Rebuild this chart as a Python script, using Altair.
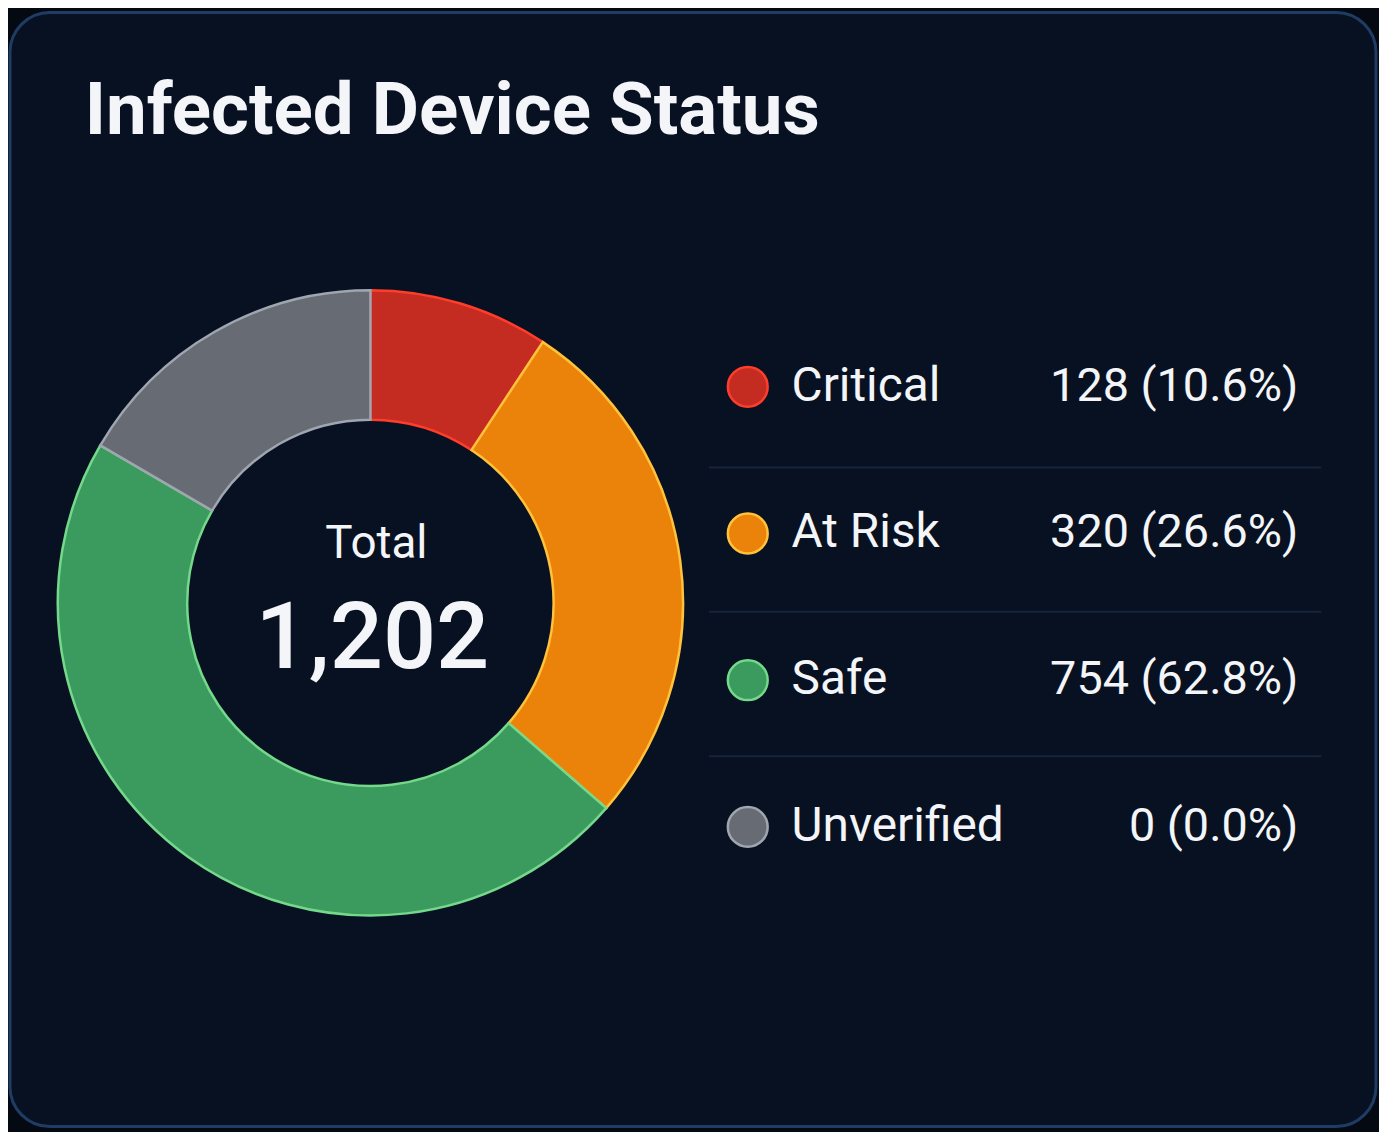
import altair as alt
import pandas as pd

title_text = "Infected Device Status"
categories = ["Critical", "At Risk", "Safe", "Unverified"]
counts = [128, 320, 754, 0]
percents = [10.6, 26.6, 62.8, 0.0]
# shares of the ring as drawn in the picture (degrees / 360)
arc_shares = [9.3, 27.1, 47.0, 16.6]
total_label = "Total"
total_value = "1,202"

fill_colors = ["#c42c22", "#eb8209", "#3b9a5d", "#676b74"]
stroke_colors = ["#ff3d2b", "#ffc23c", "#74d98b", "#a0a6b0"]

FONT = "Roboto"
TEXT = "#f3f5f8"

arc_df = pd.DataFrame({"status": categories, "share": arc_shares, "order": list(range(len(categories)))})
legend_df = pd.DataFrame({
    "status": categories,
    "value_text": [f"{c:,} ({p:.1f}%)" for c, p in zip(counts, percents)],
})
one = pd.DataFrame({"k": [0]})

color = alt.Color("status:N", scale=alt.Scale(domain=categories, range=fill_colors), legend=None)
stroke = alt.Stroke("status:N", scale=alt.Scale(domain=categories, range=stroke_colors), legend=None)
ypos = alt.Y("status:N", scale=alt.Scale(type="point", domain=categories, range=[378, 820], padding=0), axis=None)

card = alt.Chart(one).mark_rect(
    cornerRadius=40, fill="#081121", stroke="#1f3c64", strokeWidth=3
).encode(x=alt.value(2), x2=alt.value(1374), y=alt.value(2), y2=alt.value(1121))

title = alt.Chart(one).mark_text(
    text=title_text, font=FONT, fontSize=73, fontWeight="bold", color=TEXT,
    align="left", baseline="alphabetic"
).encode(x=alt.value(77), y=alt.value(124))

donut = alt.Chart(arc_df).mark_arc(
    outerRadius=314, innerRadius=184, strokeWidth=2.5
).encode(
    theta=alt.Theta("share:Q", stack=True),
    order=alt.Order("order:Q"),
    color=color,
    stroke=stroke,
    x=alt.value(364), y=alt.value(595),
)

total_lbl = alt.Chart(one).mark_text(
    text=total_label, font=FONT, fontSize=46, color=TEXT, align="center", baseline="alphabetic"
).encode(x=alt.value(370), y=alt.value(550))

total_val = alt.Chart(one).mark_text(
    text=total_value, font=FONT, fontSize=94, fontWeight=500, color=TEXT, align="center", baseline="alphabetic"
).encode(x=alt.value(366), y=alt.value(660))

rule_color = "#15243b"
dividers = alt.Chart(one).mark_rule(color=rule_color, strokeWidth=2).encode(
    x=alt.value(704), x2=alt.value(1319), y=alt.value(459)
) + alt.Chart(one).mark_rule(color=rule_color, strokeWidth=2).encode(
    x=alt.value(704), x2=alt.value(1319), y=alt.value(604)
) + alt.Chart(one).mark_rule(color=rule_color, strokeWidth=2).encode(
    x=alt.value(704), x2=alt.value(1319), y=alt.value(749)
)

dots = alt.Chart(legend_df).mark_point(
    shape="circle", filled=True, size=1600, strokeWidth=2.5, opacity=1
).encode(
    x=alt.value(743), y=ypos,
    fill=alt.Fill("status:N", scale=alt.Scale(domain=categories, range=fill_colors), legend=None),
    stroke=stroke,
)

labels = alt.Chart(legend_df).mark_text(
    font=FONT, fontSize=48, color=TEXT, align="left", baseline="middle"
).encode(x=alt.value(787), y=ypos, text="status:N")

values = alt.Chart(legend_df).mark_text(
    font=FONT, fontSize=47, color=TEXT, align="right", baseline="middle"
).encode(x=alt.value(1296), y=ypos, text="value_text:N")

chart = alt.layer(
    card, title, donut, total_lbl, total_val, dividers, dots, labels, values
).properties(
    width=1377, height=1124, padding=0,
    autosize=alt.AutoSizeParams(type="fit", contains="padding"),
    background="#040912",
).configure_view(stroke=None)

chart.save("out.html", embed_options={"renderer": "svg", "actions": False})
